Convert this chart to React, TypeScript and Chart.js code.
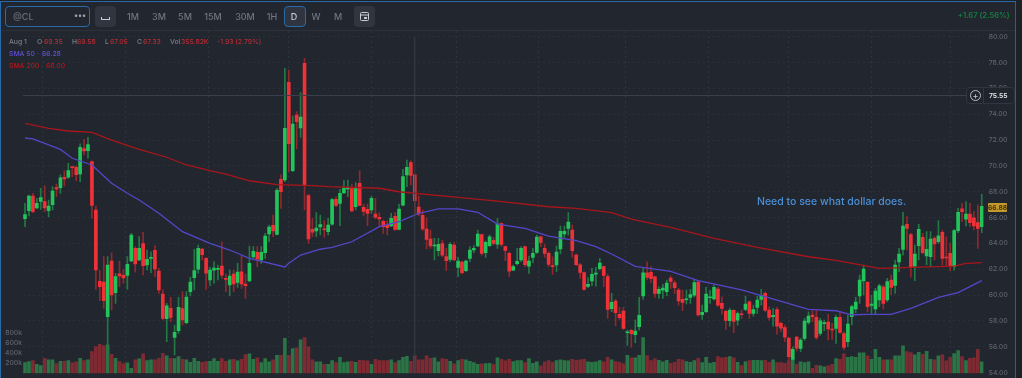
import React, { useEffect, useRef } from "react";
import { Chart, registerables } from "chart.js";

Chart.register(...registerables);

const opens = [
  65.92,66.54,67.67,66.74,67.26,67.23,66.54,67.00,68.32,68.32,
  69.12,69.12,69.92,69.89,69.38,71.34,71.18,70.33,66.59,61.07,
  61.00,58.33,62.64,60.19,61.64,61.53,61.53,62.64,63.62,62.72,
  63.98,62.33,62.85,63.47,61.87,60.09,58.18,58.98,56.73,57.25,
  58.95,57.87,60.27,61.35,62.00,63.57,62.85,61.17,61.94,61.99,
  62.25,61.30,60.78,61.63,60.99,61.81,60.86,61.09,62.95,63.31,
  62.72,63.28,64.73,65.40,64.70,68.96,68.91,76.47,69.63,73.94,
  72.93,77.94,67.70,65.09,64.96,65.27,65.12,64.91,65.50,67.41,
  67.10,67.90,68.21,68.24,66.84,68.65,66.79,66.64,66.59,66.28,
  66.02,65.71,65.40,65.35,66.10,65.09,66.97,69.30,70.25,69.30,
  66.82,66.17,65.12,64.34,63.80,63.44,63.98,62.99,62.77,63.88,
  62.15,62.56,61.89,62.85,63.49,63.80,64.68,63.28,63.83,64.24,
  63.95,65.53,63.75,63.23,61.94,62.43,62.72,63.75,62.25,62.92,
  63.31,64.52,63.62,63.23,62.25,62.33,63.57,64.73,65.17,65.04,
  63.10,62.35,61.74,60.68,61.09,61.63,62.05,62.20,61.43,58.95,
  59.54,58.51,58.77,57.09,57.27,56.93,57.55,59.93,61.73,61.76,
  61.42,60.13,60.39,60.26,61.32,60.96,60.39,59.67,59.64,59.82,
  60.00,61.01,58.48,58.71,59.80,59.70,60.47,59.36,58.74,58.02,
  58.82,58.07,58.53,58.89,59.49,58.58,59.05,59.67,60.13,58.84,
  58.33,58.89,57.81,57.48,56.67,55.02,56.75,55.88,56.65,57.89,
  58.46,58.28,57.04,57.79,57.92,57.38,57.43,58.28,57.02,56.40,
  58.33,58.93,59.93,61.09,60.99,59.21,58.93,59.62,60.63,59.62,
  61.17,60.76,62.56,63.54,65.48,64.68,62.25,63.83,64.47,63.03,
  62.98,64.39,64.14,64.86,62.92,63.23,62.20,64.99,66.67,65.87,
  66.28,65.99,65.61,65.30,
];
const closes = [
  66.23,67.67,66.46,67.11,67.54,66.74,66.90,68.06,68.22,69.07,
  68.99,69.63,69.87,69.32,71.44,71.16,71.65,66.95,61.95,60.66,
  59.57,62.33,60.01,61.43,61.48,61.33,62.38,64.65,62.41,63.62,
  62.28,62.77,62.92,62.02,60.40,58.20,59.18,58.28,57.12,59.06,
  58.08,59.85,61.00,61.89,63.62,63.13,61.69,61.94,62.10,62.07,
  61.55,61.22,61.48,60.86,61.79,60.86,60.73,62.46,63.39,62.79,
  63.31,64.57,65.27,64.96,68.11,68.00,72.91,71.72,73.24,73.42,
  73.78,68.52,64.34,64.88,65.19,65.45,65.06,65.42,67.39,66.95,
  67.88,68.29,68.34,66.51,68.29,66.95,66.48,66.33,67.49,66.04,
  65.89,65.30,65.22,65.94,65.09,66.66,69.17,69.89,69.27,67.31,
  66.28,65.12,64.32,63.80,63.85,63.93,63.10,62.66,63.93,62.72,
  62.64,61.74,62.64,63.49,63.62,64.73,63.23,64.08,64.52,64.01,
  65.50,63.93,63.46,61.86,62.20,62.61,63.62,62.35,62.64,63.23,
  64.50,64.08,63.23,62.38,62.20,63.34,64.94,64.94,65.66,63.44,
  62.35,61.76,60.45,60.83,61.61,61.68,62.48,61.53,58.90,59.44,
  58.64,58.25,57.42,57.14,57.01,57.22,58.43,61.73,61.37,61.27,
  60.13,60.44,60.54,60.93,61.06,60.57,59.56,59.44,59.72,60.05,
  60.98,58.46,58.66,60.08,59.87,60.60,59.23,58.97,58.04,58.82,
  57.97,58.58,58.48,59.31,58.58,58.89,59.62,59.98,58.84,58.27,
  58.43,57.60,57.45,56.75,55.23,55.80,55.90,56.52,57.99,58.38,
  58.33,56.73,58.02,57.87,57.38,57.30,58.28,57.12,55.96,57.76,
  59.11,59.47,61.17,62.02,59.11,59.31,60.32,60.71,59.36,61.04,
  60.60,62.33,63.18,65.35,65.17,62.15,63.18,65.09,63.29,63.54,
  64.34,63.96,64.58,62.85,62.87,62.25,64.99,66.41,66.46,66.28,
  65.61,65.35,65.17,66.88,
];
const highs = [
  67.10,67.75,67.88,67.49,68.27,68.45,67.36,68.40,68.60,69.30,
  69.61,70.20,69.92,70.00,71.70,72.06,72.21,70.38,66.90,61.89,
  62.98,62.98,63.28,61.69,62.64,62.00,62.98,64.78,63.75,64.53,
  64.86,63.49,63.36,63.83,62.08,60.40,59.36,59.83,57.69,59.83,
  60.27,60.27,61.38,63.55,63.88,63.62,62.90,62.15,62.59,62.33,
  64.13,61.63,61.94,61.94,62.46,63.03,61.63,63.80,63.75,63.75,
  63.75,64.78,65.42,66.20,68.26,69.30,77.55,77.42,73.86,74.20,
  75.67,78.33,67.80,65.94,66.38,66.20,65.76,65.94,67.49,67.62,
  68.19,68.86,68.91,68.60,68.70,69.63,67.05,67.05,67.67,67.49,
  66.38,65.81,65.76,66.33,66.41,67.05,69.73,70.46,70.40,69.37,
  67.67,66.59,65.99,65.04,64.39,64.39,64.26,63.62,64.06,64.06,
  62.92,62.61,62.72,63.75,63.83,65.04,64.73,64.21,64.65,64.47,
  65.94,65.61,63.80,63.36,62.33,63.62,63.75,63.80,63.03,63.62,
  64.65,64.57,63.93,63.36,62.97,63.80,65.35,65.35,66.38,65.43,
  63.18,62.46,61.81,61.35,62.07,62.15,62.85,62.25,61.63,60.13,
  59.67,59.05,59.05,57.29,57.35,58.07,59.82,62.15,62.58,62.20,
  61.47,60.65,60.83,61.17,61.47,61.11,60.52,60.39,60.39,60.44,
  61.22,61.11,59.23,60.60,60.39,60.80,60.60,59.87,58.84,58.97,
  58.89,58.71,58.84,59.93,59.56,59.23,59.93,60.44,60.26,59.10,
  58.97,59.05,57.94,57.68,56.73,56.00,56.83,56.65,58.20,58.71,
  58.80,58.80,58.20,58.07,58.51,57.82,58.46,58.72,57.15,58.46,
  59.23,59.83,61.56,62.33,61.04,60.01,60.53,60.86,60.78,61.30,
  61.56,62.72,63.62,66.41,66.07,64.78,63.88,65.48,64.78,64.91,
  64.91,64.52,65.76,65.04,64.52,64.01,65.09,66.72,67.10,67.23,
  67.10,66.46,66.98,67.80,
];
const lows = [
  65.30,66.13,66.38,66.69,66.64,66.46,66.07,66.59,67.62,67.88,
  68.45,69.04,69.17,68.86,68.78,70.85,70.59,65.95,60.45,59.57,
  58.98,55.50,58.85,59.36,60.66,60.91,60.45,62.59,61.77,62.67,
  61.56,61.95,61.74,61.43,60.14,58.08,56.40,57.95,55.37,57.04,
  57.69,57.77,59.93,60.40,61.69,62.72,60.45,60.73,60.91,61.17,
  61.30,60.26,59.93,60.26,60.60,60.52,59.75,61.04,62.85,62.20,
  62.46,62.85,64.13,64.52,64.65,66.71,68.78,69.55,69.55,71.31,
  72.21,66.59,64.01,64.52,64.52,64.65,64.47,64.65,65.42,66.84,
  65.37,67.88,67.62,66.46,66.59,66.90,66.15,65.37,66.33,65.89,
  65.30,64.78,64.65,65.30,64.99,65.04,66.90,68.39,68.52,66.33,
  66.15,64.99,63.57,63.62,62.72,63.03,62.97,61.89,62.59,62.66,
  61.43,61.63,61.81,62.59,63.28,63.75,63.10,62.92,63.75,63.88,
  63.62,63.75,62.66,61.43,61.89,62.33,62.59,62.20,61.68,62.51,
  63.23,63.75,62.92,62.20,61.61,61.81,63.18,64.47,64.65,62.92,
  62.28,61.30,60.39,60.57,60.73,60.70,61.94,60.65,58.20,58.72,
  57.63,58.12,57.35,56.11,55.95,56.31,57.29,59.67,61.17,60.96,
  59.82,59.75,59.75,59.93,60.52,60.13,59.23,58.79,59.31,59.36,
  59.87,58.38,58.12,58.64,59.36,59.62,59.10,58.53,57.35,57.60,
  57.09,57.68,58.20,58.79,58.20,58.38,58.58,59.23,58.71,58.07,
  57.60,56.98,57.17,56.39,54.97,54.59,55.69,55.62,56.52,57.76,
  57.94,56.58,56.89,57.25,56.53,56.58,56.27,57.04,55.75,56.01,
  57.69,58.64,59.36,60.01,58.72,58.59,58.54,59.11,58.93,59.49,
  60.01,60.14,61.81,63.10,63.49,61.38,61.12,62.72,63.18,62.33,
  62.20,62.72,64.01,62.33,62.20,61.89,61.94,64.83,65.68,65.35,
  65.30,65.04,63.62,64.83,
];
const volumes = [
  213,233,253,180,153,300,267,267,193,240,
  240,253,207,227,300,253,267,433,533,580,
  553,567,380,300,233,193,207,100,267,287,
  387,253,267,267,300,400,347,300,293,333,
  280,267,220,300,240,220,233,
  240,293,240,293,240,267,280,247,280,373,387,280,307,213,293,227,267,360,360,700,
  360,493,507,667,713,527,267,227,227,180,180,253,213,320,213,227,240,220,260,253,
  247,180,280,253,253,253,267,213,253,320,340,
  240,347,267,267,347,300,307,227,293,280,240,187,253,280,267,240,213,180,187,193,
  200,173,307,280,247,280,233,253,253,213,293,200,227,147,227,253,220,253,267,253,
  247,280,260,267,280,227,220,227,253,227,320,
  267,233,220,187,360,307,307,360,713,353,253,287,260,227,260,200,220,280,267,233,
  220,253,300,213,320,200,220,333,307,320,333,307,220,153,233,253,260,260,253,260,
  220,267,213,213,200,253,267,180,227,213,227,
  100,160,147,127,147,180,293,280,387,320,333,320,407,407,347,280,480,320,267,267,
  267,347,347,547,433,413,367,420,380,440,280,267,347,367,247,320,393,453,333,253,
  300,307,480,227,
];

const sma200At = [0,6,11,17,22,29,36,41,47,51,57,64,73,77,90,95,108,120,133,140,149,154,164,175,186,199,206,217,225,236,239,243];
const sma200Val = [73.30,72.91,72.70,72.60,72.00,71.28,70.67,70.07,69.63,69.37,68.85,68.55,68.47,68.39,68.27,68.00,67.62,67.28,66.84,66.72,66.38,65.89,65.24,64.40,63.70,62.97,62.69,62.07,62.15,62.25,62.46,62.51];
const sma50At = [0,2,9,12,17,22,26,29,34,40,47,52,57,66,67,70,75,78,83,90,95,98,100,105,110,115,120,127,133,140,145,149,155,164,171,182,191,199,206,210,214,220,225,232,237,243];
const sma50Val = [72.16,72.10,71.28,70.59,70.07,68.65,67.88,67.36,66.33,64.91,64.01,63.49,62.85,62.18,62.46,63.10,63.55,63.70,64.13,65.30,65.68,66.07,66.33,66.67,66.67,66.41,65.50,65.17,64.57,64.21,63.75,63.18,62.23,61.84,61.12,60.40,59.62,58.90,58.79,58.48,58.51,58.51,58.97,59.83,60.19,61.12];

const priceTicks = [54,56,58,60,62,64,66,68,70,72,74,76,78,80];
const volumeTicks = [200,400,600,800];
const gridAt = [15,36,57,77,99,120,141,164,183,205,225];
const crosshairIndex = 99;
const crosshairPrice = 75.55;

const intervals: [string, number][] = [["1M",133],["3M",159],["5M",185],["15M",213],["30M",245],["1H",272],["D",294],["W",316],["M",338]];
const ohlc: [string, string, number, number][] = [
  ["O","69.35",37,44],["H","69.58",72,77],["L","67.05",105,110],["C","67.33",137,143],["Vol","355.82K",170,181],
];

const UP = "#22c55a", DOWN = "#f03238";
const FONT = "Inter";
const SMALL = 6.8;

const sparse = (at: number[], vals: number[]) => {
  const out: (number | null)[] = opens.map(() => null);
  at.forEach((a, i) => { out[a] = vals[i]; });
  return out;
};

const Txt = (p: { x: number; y: number; size?: number; color: string; right?: boolean; center?: boolean; bold?: boolean; children: React.ReactNode }) => (
  <div style={{ position: "absolute", left: p.right || p.center ? undefined : p.x, right: p.right ? 1022 - p.x : undefined,
    ...(p.center ? { left: p.x, transform: "translateX(-50%)" } : {}),
    top: p.y, fontSize: p.size ?? SMALL, lineHeight: "10px", color: p.color, fontWeight: p.bold ? 600 : 500, whiteSpace: "nowrap" }}>{p.children}</div>
);

export default function App() {
  const ref = useRef<HTMLCanvasElement>(null);
  useEffect(() => {
    const isUp = opens.map((o, i) => closes[i] >= o);
    const crosshair = {
      id: "crosshair",
      afterDatasetsDraw(c: any) {
        const { ctx, chartArea: a, scales } = c;
        const px = scales.x.getPixelForValue(crosshairIndex);
        const py = scales.y.getPixelForValue(crosshairPrice);
        ctx.save();
        ctx.strokeStyle = "#3a3f4b";
        ctx.lineWidth = 1;
        ctx.beginPath();
        ctx.moveTo(px, a.top + 6); ctx.lineTo(px, a.bottom);
        ctx.moveTo(a.left, Math.ceil(py) + 0.5); ctx.lineTo(a.right, Math.ceil(py) + 0.5);
        ctx.stroke();
        ctx.restore();
      },
    };
    const chart = new Chart(ref.current!, {
      type: "bar",
      plugins: [crosshair],
      data: {
        labels: opens.map((_, i) => String(i)),
        datasets: [
          { type: "line", data: sparse(sma200At, sma200Val), borderColor: "#a8161b", borderWidth: 1.3, pointRadius: 0, spanGaps: true, tension: 0, order: 0, yAxisID: "y" },
          { type: "line", data: sparse(sma50At, sma50Val), borderColor: "#5546c9", borderWidth: 1.3, pointRadius: 0, spanGaps: true, tension: 0, order: 0, yAxisID: "y" },
          { data: opens.map((o, i) => [o, closes[i]]), backgroundColor: isUp.map((u) => (u ? UP : DOWN)), barThickness: 3, minBarLength: 1, grouped: false, order: 1, yAxisID: "y" },
          { data: lows.map((l, i) => [l, highs[i]]), backgroundColor: isUp.map((u) => (u ? "#217a43" : "#93272e")), barThickness: 1, grouped: false, order: 2, yAxisID: "y" },
          { data: volumes, backgroundColor: isUp.map((u) => (u ? "#2a7445" : "#7f2a33")), barThickness: 3, grouped: false, order: 3, yAxisID: "volume" },
        ] as any,
      },
      options: {
        responsive: false,
        animation: false,
        events: [],
        layout: { padding: { top: 31, bottom: 4.7, left: 0, right: 0 } },
        plugins: { legend: { display: false }, tooltip: { enabled: false } },
        scales: {
          x: {
            type: "category",
            grid: { display: true, color: "#2e333c", drawTicks: false, tickLength: 0, lineWidth: 1 },
            border: { display: false, dash: [2, 3] },
            ticks: { display: false, autoSkip: false },
            afterBuildTicks: (axis: any) => { axis.ticks = gridAt.map((v) => ({ value: v })); },
            afterFit: (axis: any) => { axis.height = 0; },
          },
          y: {
            position: "right",
            min: 53.95,
            max: 80.44,
            grid: { color: "#2b3039", drawTicks: true, tickLength: 5, tickColor: "transparent" },
            border: { display: false, dash: [2, 3] },
            ticks: { color: "#5d636e", font: { family: FONT, size: SMALL, weight: 500 }, padding: 0, callback: (v: any) => Number(v).toFixed(2) },
            afterBuildTicks: (axis: any) => { axis.ticks = priceTicks.map((v) => ({ value: v })); },
            afterFit: (axis: any) => { axis.width = 38.3; },
          },
          volume: {
            position: "left",
            min: 0,
            max: 6846,
            grid: { display: false, drawTicks: true, tickLength: 1, tickColor: "transparent" },
            border: { display: false },
            ticks: { color: "#5d636e", font: { family: FONT, size: SMALL, weight: 500 }, padding: 0, callback: (v: any) => `${v}k` },
            afterBuildTicks: (axis: any) => { axis.ticks = volumeTicks.map((v) => ({ value: v })); },
            afterFit: (axis: any) => { axis.width = 23.03; },
          },
        },
      } as any,
    });
    return () => chart.destroy();
  }, []);

  const gray = "#7a808a", red = "#b42c34", sma50 = "#5f50d8", sma200 = "#b8161c";
  return (
    <div style={{ position: "fixed", left: 0, top: 0, width: 1022, height: 378, overflow: "hidden", background: "#1c2027", fontFamily: FONT }}>
      <div style={{ position: "absolute", left: 0, top: 1, width: 1014, height: 377, background: "#22262f", borderLeft: "1px solid #2a6aa8", borderTop: "1px solid #2a6aa8", borderRight: "1px solid #2a5f94" }} />
      <canvas ref={ref} width={1022} height={378} style={{ position: "absolute", left: 0, top: 0, display: "block" }} />
      <div style={{ position: "absolute", left: 2, top: 30, width: 1013, height: 1, background: "#2c313a" }} />

      <div style={{ position: "absolute", left: 5, top: 6, width: 83, height: 19, border: "1px solid #2a6aa8", borderRadius: 4 }} />
      <Txt x={13} y={12} size={9} color="#6a707b">@CL</Txt>
      <Txt x={74} y={10} size={8} color="#9aa0aa" bold>•••</Txt>
      <div style={{ position: "absolute", left: 95, top: 6, width: 21, height: 21, background: "#31353f", borderRadius: 4 }}>
        <div style={{ position: "absolute", left: 6, top: 11, width: 7, height: 2, borderLeft: "1px solid #c8ccd2", borderRight: "1px solid #c8ccd2", borderBottom: "1px solid #c8ccd2" }} />
      </div>
      <div style={{ position: "absolute", left: 284, top: 6, width: 20, height: 19, background: "#2f3540", border: "1px solid #2a6aa8", borderRadius: 4 }} />
      {intervals.map(([t, x]) => (
        <Txt key={t} x={x} y={12} size={9} center color={t === "D" ? "#c6cad0" : "#6f7581"}>{t}</Txt>
      ))}
      <div style={{ position: "absolute", left: 354, top: 6, width: 21, height: 21, background: "#31353f", borderRadius: 4 }}>
        <svg width="21" height="21" style={{ position: "absolute", left: 0, top: 0 }}>
          <rect x="6.5" y="6.5" width="8" height="8" rx="1" fill="none" stroke="#c8ccd2" />
          <line x1="6.5" x2="14.5" y1="9" y2="9" stroke="#c8ccd2" />
          <rect x="10" y="11" width="3" height="2" fill="#c8ccd2" />
        </svg>
      </div>
      <Txt x={1009.5} y={11} size={7.6} right color="#12803f" bold>+1.67 (2.56%)</Txt>

      <Txt x={9} y={37} color={gray}>Aug 1</Txt>
      {ohlc.map(([k, v, kx, vx]) => (
        <React.Fragment key={k}>
          <Txt x={kx} y={37} color={gray}>{k}</Txt>
          <Txt x={vx} y={37} color={red}>{v}</Txt>
        </React.Fragment>
      ))}
      <Txt x={217} y={37} color={red}>-1.93 (2.79%)</Txt>
      <Txt x={9} y={48.5} color={sma50}>SMA 50</Txt>
      <Txt x={37} y={48.5} color={sma50}>·</Txt>
      <Txt x={42} y={48.5} color={sma50}>66.28</Txt>
      <Txt x={9} y={60.5} color={sma200}>SMA 200</Txt>
      <Txt x={40.5} y={60.5} color={sma200}>·</Txt>
      <Txt x={46} y={60.5} color={sma200}>68.00</Txt>

      <Txt x={757} y={197} size={10.5} color="#4a8fd6">Need to see what dollar does.</Txt>

      <div style={{ position: "absolute", left: 988, top: 202.5, width: 19, height: 9, background: "#c49a2c", borderRadius: 1, textAlign: "center", fontSize: SMALL, lineHeight: "9px", color: "#3a2f10", fontWeight: 600 }}>66.88</div>

      <div style={{ position: "absolute", left: 966, top: 87, width: 47, height: 15, background: "#20242c", border: "1px solid #31353f", borderRadius: 4 }}>
        <div style={{ position: "absolute", left: 16, top: 0, width: 1, height: 15, background: "#31353f" }} />
        <div style={{ position: "absolute", left: 3, top: 2, width: 9, height: 9, border: "1px solid #b9bdc4", borderRadius: "50%", color: "#c8ccd2", fontSize: 9, lineHeight: "9px", textAlign: "center" }}>+</div>
        <Txt x={22} y={3} size={SMALL} bold color="#e4e6ea">75.55</Txt>
      </div>
    </div>
  );
}
